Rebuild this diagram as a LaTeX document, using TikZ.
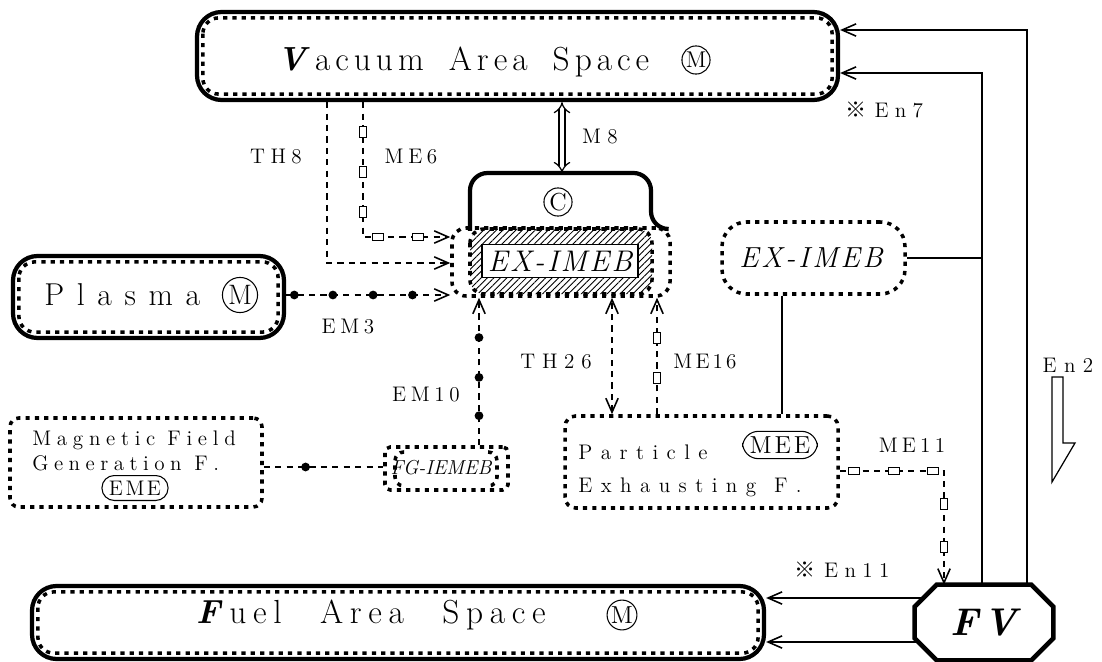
\documentclass[tikz,border=0pt]{standalone}
\usepackage{fontspec}
\newfontfamily\cjk{Noto Sans CJK JP}
\usetikzlibrary{fit,calc,arrows.meta,patterns.meta}
\ExplSyntaxOn
\NewDocumentCommand \ls { O{0.2em} O{0.5em} m }
 {
  \seq_set_split:Nnn \l_tmpa_seq { ~ } { #3 }
  \seq_map_indexed_inline:Nn \l_tmpa_seq
   {
    \int_compare:nNnT { ##1 } > { 1 } { \hspace{#2} }
    \tl_map_inline:nn { ##2 } { ####1 \kern #1 }
   }
  \unkern
 }
\ExplSyntaxOff
\newcommand\dblbox[5]{%
  \node[outerbox, fit={(#2,#3)(#4,#5)}] (#1) {};
  \draw[dotline, rounded corners=9pt] ($(#1.north west)+(8,8)$) rectangle ($(#1.south east)+(-8,-8)$);}
\begin{document}
\begin{tikzpicture}[x=0.02cm,y=-0.02cm,
  outerbox/.style={draw, line width=2.4pt, rounded corners=14pt, inner sep=0pt},
  dotline/.style={draw, line width=2pt, dash pattern=on 2.4pt off 2.9pt},
  dotbox/.style={dotline, inner sep=0pt},
  thinl/.style={line width=0.8pt},
  dsh/.style={line width=0.9pt, dash pattern=on 3.5pt off 3pt},
  tip/.style={-{Straight Barb[length=8pt,width=7pt,line width=0.9pt]}},
  tips/.style={{Straight Barb[length=8pt,width=7pt,line width=0.9pt]}-{Straight Barb[length=8pt,width=7pt,line width=0.9pt]}},
  lab/.style={font=\fontsize{12}{14}\selectfont, inner sep=0pt},
  big/.style={font=\fontsize{19}{20}\selectfont, inner sep=0pt},
  dotm/.style={circle, fill, inner sep=0pt, minimum size=5pt},
  sqv/.style={draw, fill=white, inner sep=0pt, minimum width=4.5pt, minimum height=6pt, line width=0.6pt},
  sqh/.style={draw, fill=white, inner sep=0pt, minimum width=6pt, minimum height=4.5pt, line width=0.6pt},
  circ/.style={circle, draw, line width=0.6pt, inner sep=0pt},
  oval/.style={draw, line width=0.6pt, rounded corners=7pt, inner xsep=4pt, inner ysep=3pt, font=\fontsize{12}{14}\selectfont},
]
\useasboundingbox (0,0) rectangle (1102,662);

% ---------- Vacuum Area Space
\dblbox{vac}{197}{12}{838}{100}
\node[big, anchor=west] (vact) at (277,62) {\textbf{\textit{V}}\kern0.15em\ls[0.15em][0.6em]{acuum Area Space}};
\node[circ, minimum size=16pt, font=\fontsize{13}{13}\selectfont] (vm) at (696,60) {M};

% ---------- central EX-IMEB complex
\node[dotbox, rounded corners=8pt, fit={(452,228)(670,296)}] (exo) {};
\fill[pattern={Lines[angle=45,distance=2.6pt,line width=0.5pt]}, rounded corners=8pt] (470,229) rectangle (652,294);
\draw[dotline, rounded corners=8pt] (470,229) rectangle (652,294);
\node[draw, fill=white, line width=0.6pt, minimum width=3.12cm, minimum height=0.66cm, inner sep=0pt,
      font=\fontsize{17}{17}\selectfont\itshape] (exin) at (560,261) {\ls[0.08em]{EX-IMEB}};
\draw[line width=2.4pt, rounded corners=10pt] (470,231) -- (470,173) -- (651,173) -- (651,229) -- (667,229);
\coordinate (ctop) at (562,173);
\node[circ, minimum size=16pt, font=\fontsize{14}{14}\selectfont] (cc) at (558,202) {C};
\draw[double, double distance=2.6pt, line width=0.7pt, {Implies}-{Implies}] (vac.south -| ctop) -- (ctop);
\node[lab] (m8) at (600,137) {\ls[0.3em]{M8}};

% ---------- right EX-IMEB
\node[dotbox, rounded corners=14pt, fit={(722,222)(905,294)}] (exr) {};
\node[font=\fontsize{16.5}{17}\selectfont\itshape] (exrt) at (811,258) {\ls[0.1em]{EX-IMEB}};

% ---------- Plasma
\dblbox{pla}{13}{256}{284}{338}
\node[font=\fontsize{18}{19}\selectfont, inner sep=0pt, anchor=west] (plat) at (44,295) {\ls[0.4em]{Plasma}};
\node[circ, minimum size=20pt, font=\fontsize{16}{16}\selectfont] (pm) at (240,295) {M};

% ---------- Magnetic Field Generation F.
\node[dotbox, rounded corners=5pt, fit={(10,418)(262,507)}] (mag) {};
\node[lab, anchor=west] (magt1) at (32,440) {\ls[0.27em][0.3em]{Magnetic Field}};
\node[lab, anchor=west] (magt2) at (32,463) {\ls[0.26em][0.35em]{Generation F.}};
\node[oval] (eme) at (135,488) {\ls[0.12em]{EME}};

% ---------- FG-IEMEB
\node[dotbox, rounded corners=3pt, fit={(385,447)(508,490)}] (fg) {};
\draw[dotline, rounded corners=5pt] (488,452) -- (497,452) -- (497,486) -- (488,486);
\draw[dotline, rounded corners=5pt] (404,452) -- (395,452) -- (395,486) -- (404,486);
\node[font=\fontsize{11.5}{12}\selectfont\itshape] (fgt) at (441,468) {FG-IEMEB};

% ---------- Particle Exhausting F.
\node[dotbox, rounded corners=6pt, fit={(565,416)(838,508)}] (part) {};
\node[lab, anchor=west] (part1) at (578,452) {\ls[0.4em]{Particle}};
\node[lab, anchor=west] (part2) at (578,487) {\ls[0.4em][0.45em]{Exhausting F.}};
\node[oval, rounded corners=9pt, font=\fontsize{14}{14}\selectfont] (mee) at (780,445) {\ls[0.12em]{MEE}};

% ---------- FV
\node[inner sep=0pt, fit={(915,585)(1053,660)}] (fv) {};
\draw[line width=2.6pt] ($(fv.north west)+(22,0)$) -- ($(fv.north east)+(-22,0)$) -- ($(fv.north east)+(0,22)$)
   -- ($(fv.south east)+(0,-22)$) -- ($(fv.south east)+(-22,0)$) -- ($(fv.south west)+(22,0)$)
   -- ($(fv.south west)+(0,-22)$) -- ($(fv.north west)+(0,22)$) -- cycle;
\node[font=\fontsize{22}{22}\selectfont\bfseries\itshape] (fvt) at (fv.center) {\ls[0.12em]{FV}};

% ---------- Fuel Area Space
\dblbox{fuel}{32}{586}{764}{659}
\node[big, anchor=west] (fuelt) at (196,615) {\textbf{\textit{F}}\kern0.2em\ls[0.2em][0.95em]{uel Area Space}};
\node[circ, minimum size=17pt, font=\fontsize{14}{14}\selectfont] (fm) at (622,615) {M};

% ---------- connectors
% TH8
\draw[dsh, tip] (327,0 |- vac.south) -- (327,263) -- (exo.west |- 0,263);
\node[lab] (th8) at (276,157) {\ls[0.26em]{TH8}};
% ME6
\draw[dsh, tip] (363,0 |- vac.south) -- (363,237) -- (exo.west |- 0,237);
\node[sqv] (s1) at (363,132) {};
\node[sqv] (s2) at (363,172) {};
\node[sqv] (s3) at (363,212) {};
\node[sqh] (s4) at (378,237) {};
\node[sqh] (s5) at (418,237) {};
\node[lab] (me6) at (411,157) {\ls[0.22em]{ME6}};
% EM3
\draw[dsh, tip] (pla.east |- 0,295) -- (exo.west |- 0,295)
  node[dotm, pos=0.05] {} node[dotm, pos=0.285] {} node[dotm, pos=0.53] {} node[dotm, pos=0.77] {};
\node[lab] (em3) at (348,327) {\ls[0.22em]{EM3}};
% EM10
\draw[dsh, tip] (479,0 |- fg.north) -- (479,0 |- exo.south)
  node[dotm, pos=0.2] {} node[dotm, pos=0.46] {} node[dotm, pos=0.73] {};
\node[lab] (em10) at (426,395) {\ls[0.22em]{EM10}};
% Magnetic -> FG
\draw[dsh] (mag.east |- 0,467) -- (fg.west |- 0,467) node[dotm, pos=0.35] {};
% TH26
\draw[dsh, tips] (612,0 |- part.north) -- (612,0 |- exo.south);
\node[lab] (th26) at (556,362) {\ls[0.32em]{TH26}};
% ME16
\draw[dsh, tip] (657,0 |- part.north) -- (657,0 |- exo.south);
\node[sqv] (s6) at (657,338) {};
\node[sqv] (s7) at (657,378) {};
\node[lab] (me16) at (705,362) {\ls[0.15em]{ME16}};
% EX-IMEB right links
\draw[thinl] (exr.east) -- (982,0 |- exr.east);
\draw[thinl] (782,0 |- exr.south) -- (782,0 |- part.north);
% ME11
\draw[dsh, tip] (part.east |- 0,471) -- (944,471) -- (944,0 |- fv.north);
\node[sqh] (s8) at (854,471) {};
\node[sqh] (s9) at (894,471) {};
\node[sqh] (s10) at (933,471) {};
\node[sqv] (s11) at (944,504) {};
\node[sqv] (s12) at (944,547) {};
\node[lab] (me11) at (912,445) {\ls[0.2em]{ME11}};
% FV -> Vacuum
\draw[thinl, tip] (982,0 |- fv.north) -- (982,73) -- (vac.east |- 0,73);
\draw[thinl, tip] (1027,0 |- fv.north) -- (1027,30) -- (vac.east |- 0,30);
\node[lab] (en7) at (884,110) {{\cjk ※}\hspace{0.4em}\ls[0.3em]{En7}};
% FV -> Fuel
\draw[thinl, tip] ($(fv.west |- 0,598)+(9,0)$) -- (fuel.east |- 0,598);
\draw[thinl, tip] ($(fv.west |- 0,642)+(3,0)$) -- (fuel.east |- 0,642);
\node[lab] (en11) at (842,570) {{\cjk ※}\hspace{0.4em}\ls[0.3em]{En11}};
% En2
\node[lab] (en2) at (1068,365) {\ls[0.35em]{En2}};
\draw[line width=0.7pt] (1052,377) -- (1063,377) -- (1063,443) -- (1075,443) -- (1052,482) -- cycle;
\end{tikzpicture}
\end{document}
